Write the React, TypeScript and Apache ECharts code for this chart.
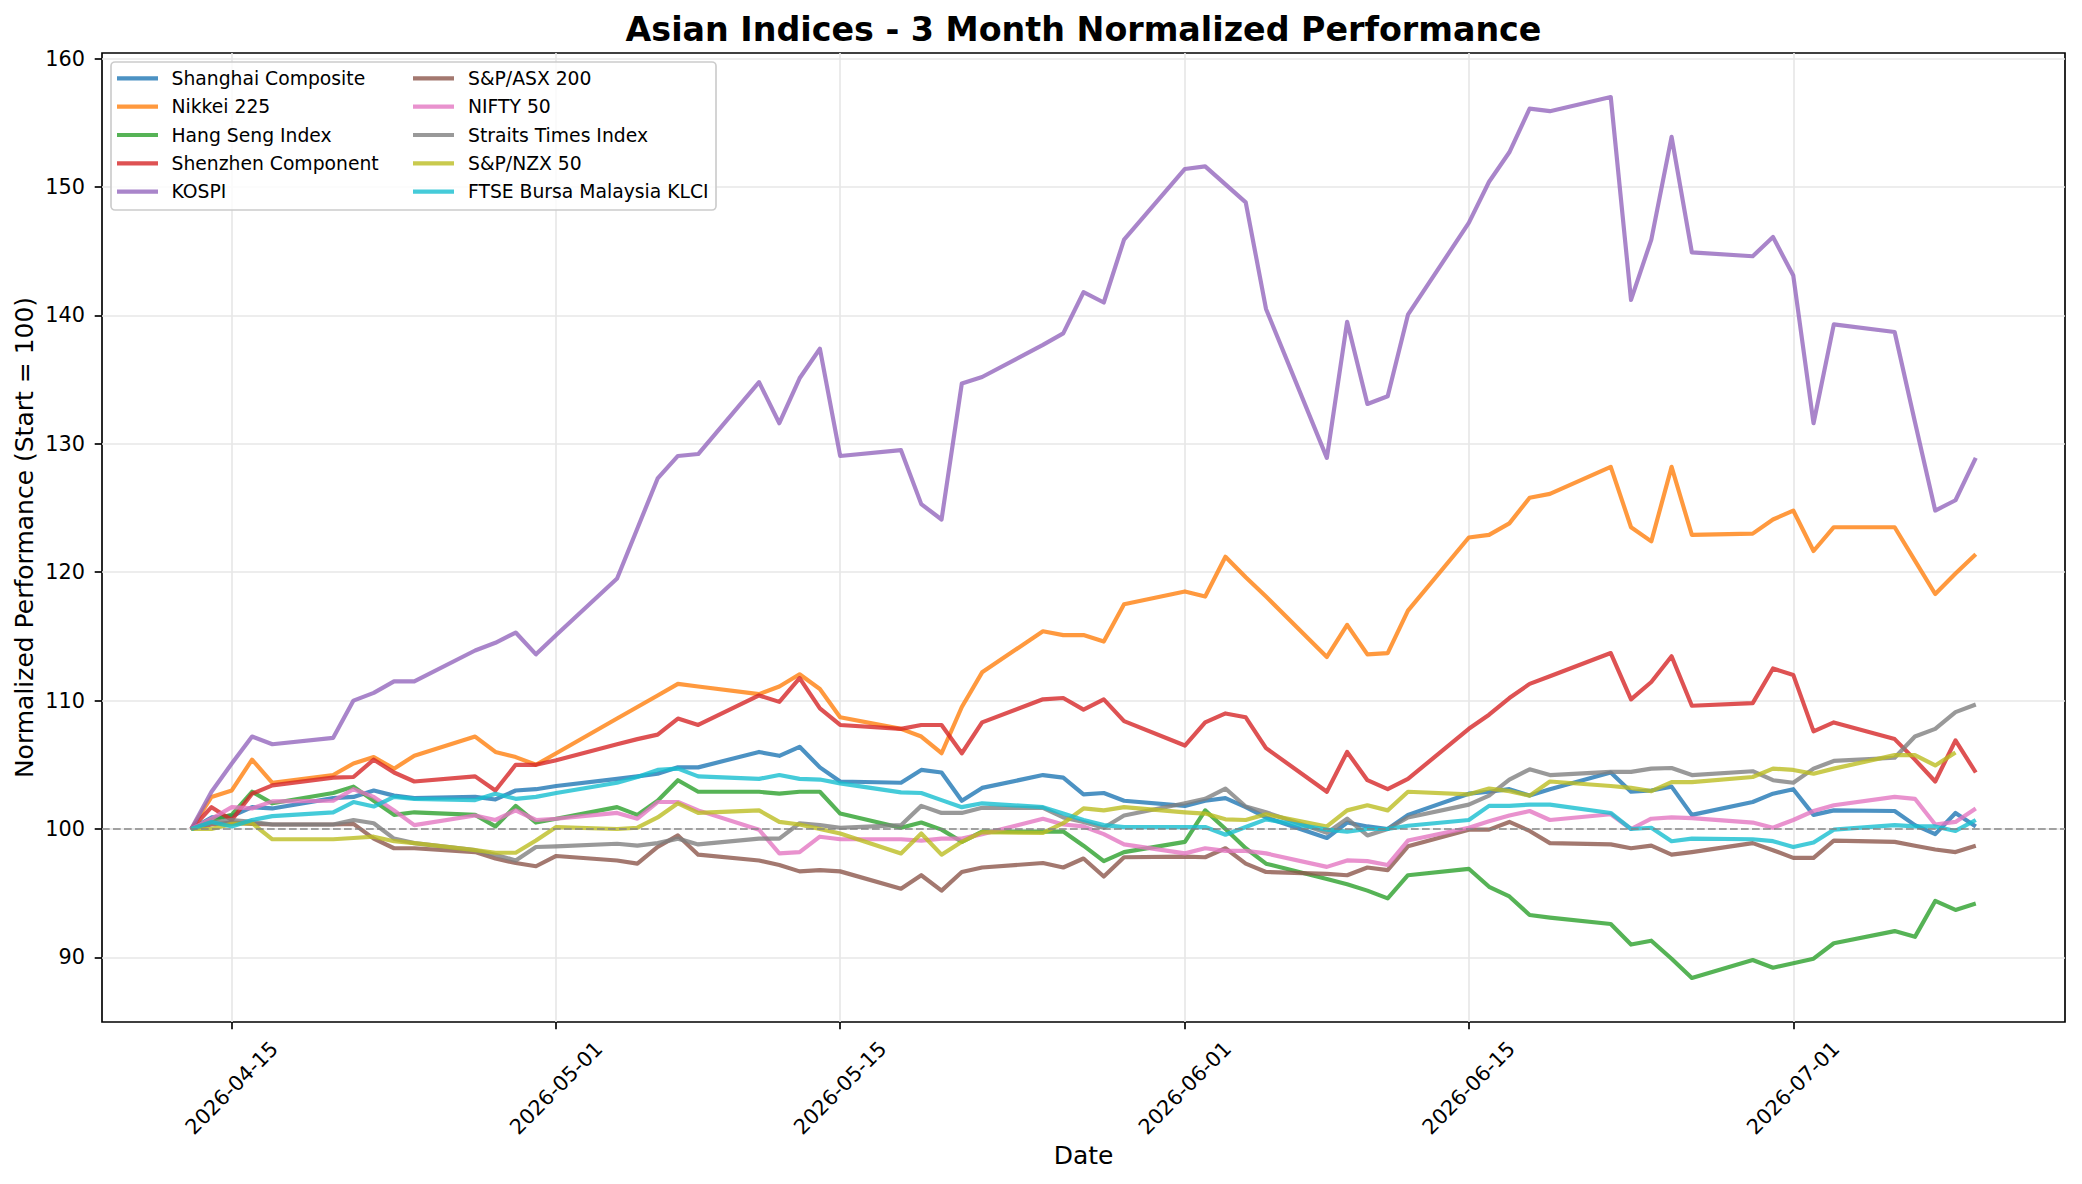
import React, { useEffect, useRef } from "react";
import * as echarts from "echarts";

// Trading days (weekdays) 2026-04-13 .. 2026-07-10
const dates = [
  "2026-04-13", "2026-04-14", "2026-04-15", "2026-04-16", "2026-04-17",
  "2026-04-20", "2026-04-21", "2026-04-22", "2026-04-23", "2026-04-24",
  "2026-04-27", "2026-04-28", "2026-04-29", "2026-04-30", "2026-05-01",
  "2026-05-04", "2026-05-05", "2026-05-06", "2026-05-07", "2026-05-08",
  "2026-05-11", "2026-05-12", "2026-05-13", "2026-05-14", "2026-05-15",
  "2026-05-18", "2026-05-19", "2026-05-20", "2026-05-21", "2026-05-22",
  "2026-05-25", "2026-05-26", "2026-05-27", "2026-05-28", "2026-05-29",
  "2026-06-01", "2026-06-02", "2026-06-03", "2026-06-04", "2026-06-05",
  "2026-06-08", "2026-06-09", "2026-06-10", "2026-06-11", "2026-06-12",
  "2026-06-15", "2026-06-16", "2026-06-17", "2026-06-18", "2026-06-19",
  "2026-06-22", "2026-06-23", "2026-06-24", "2026-06-25", "2026-06-26",
  "2026-06-29", "2026-06-30", "2026-07-01", "2026-07-02", "2026-07-03",
  "2026-07-06", "2026-07-07", "2026-07-08", "2026-07-09", "2026-07-10",
];

const shanghai = [
  100, 100.9, 101.0, 101.7, 101.6,
  102.4, 102.5, 103.0, 102.6, 102.4,
  102.5, 102.3, 103.0, 103.1, 103.35,
  103.9, 104.1, 104.3, 104.8, 104.8,
  106.0, 105.7, 106.4, 104.8, 103.7,
  103.6, 104.6, 104.4, 102.2, 103.2,
  104.2, 104.0, 102.7, 102.8, 102.2,
  101.8, 102.2, 102.4, 101.7, 100.9,
  99.3, 100.5, 100.2, 100.0, 101.1,
  102.75, 102.9, 103.1, 102.6, 103.1,
  104.4, 102.9, 103.0, 103.3, 101.1,
  102.1, 102.75, 103.1, 101.1, 101.45,
  101.4, 100.3, 99.6, 101.25, 100.2,
];
const nikkei = [
  100, 102.5, 103.0, 105.4, 103.6,
  104.2, 105.1, 105.6, 104.7, 105.7,
  107.2, 106.0, 105.6, 105.0, 105.9,
  108.6, 109.5, 110.4, 111.3, 111.1,
  110.5, 111.1, 112.05, 110.9, 108.7,
  107.8, 107.2, 105.9, 109.5, 112.2,
  115.4, 115.1, 115.1, 114.6, 117.5,
  118.5, 118.1, 121.2, 119.6, 118.1,
  113.4, 115.9, 113.6, 113.7, 117.0,
  122.7, 122.9, 123.8, 125.8, 126.1,
  128.2, 123.5, 122.4, 128.2, 122.9,
  123.0, 124.1, 124.8, 121.65, 123.5,
  123.5, 120.9, 118.3, 119.9, 121.4,
];
const hangSeng = [
  100, 100.7, 101.1, 102.9, 102.0,
  102.8, 103.3, 102.2, 101.1, 101.3,
  101.1, 100.2, 101.8, 100.5, 100.8,
  101.7, 101.1, 102.2, 103.8, 102.9,
  102.9, 102.75, 102.9, 102.9, 101.2,
  100.1, 100.5, 99.95, 99.0, 99.8,
  99.8, 99.8, 98.7, 97.5, 98.2,
  99.0, 101.45, 100.0, 98.5, 97.3,
  96.1, 95.7, 95.2, 94.6, 96.4,
  96.9, 95.5, 94.75, 93.3, 93.1,
  92.6, 91.0, 91.3, 89.9, 88.4,
  89.8, 89.2, 89.55, 89.9, 91.1,
  92.05, 91.6, 94.4, 93.7, 94.2,
];
const shenzhen = [
  100, 101.7, 100.7, 102.75, 103.4,
  104.0, 104.05, 105.4, 104.4, 103.7,
  104.1, 103.0, 105.0, 105.0, 105.35,
  106.6, 107.0, 107.35, 108.6, 108.1,
  110.4, 109.9, 111.75, 109.4, 108.1,
  107.8, 108.1, 108.1, 105.9, 108.3,
  110.1, 110.2, 109.3, 110.1, 108.4,
  106.5, 108.3, 109.0, 108.7, 106.3,
  102.9, 106.0, 103.8, 103.1, 103.9,
  107.8, 108.9, 110.2, 111.3, 111.9,
  113.7, 110.1, 111.45, 113.45, 109.6,
  109.8, 112.5, 112.0, 107.6, 108.3,
  107.0, 105.4, 103.7, 106.9, 104.4,
];
const kospi = [
  100, 102.9, 105.1, 107.2, 106.6,
  107.1, 110.0, 110.6, 111.5, 111.5,
  113.9, 114.5, 115.3, 113.6, 115.1,
  119.5, 123.4, 127.3, 129.05, 129.2,
  134.8, 131.6, 135.1, 137.4, 129.05,
  129.5, 125.3, 124.1, 134.7, 135.2,
  137.7, 138.6, 141.8, 141.0, 145.9,
  151.4, 151.6, 150.2, 148.8, 140.5,
  128.9, 139.5, 133.1, 133.7, 140.05,
  147.2, 150.4, 152.7, 156.1, 155.9,
  157.0, 141.2, 145.9, 153.9, 144.9,
  144.6, 146.1, 143.1, 131.6, 139.3,
  138.7, 131.7, 124.8, 125.6, 128.9,
];
const asx200 = [
  100, 100.35, 100.5, 100.4, 100.35,
  100.35, 100.4, 99.25, 98.5, 98.5,
  98.2, 97.7, 97.35, 97.1, 97.9,
  97.55, 97.3, 98.6, 99.5, 98.0,
  97.55, 97.2, 96.7, 96.8, 96.7,
  95.35, 96.4, 95.2, 96.65, 97.0,
  97.35, 97.0, 97.7, 96.3, 97.8,
  97.85, 97.8, 98.5, 97.3, 96.65,
  96.5, 96.4, 97.0, 96.8, 98.65,
  99.95, 99.95, 100.55, 99.85, 98.9,
  98.8, 98.5, 98.7, 98.0, 98.2,
  98.9, 98.35, 97.75, 97.75, 99.1,
  99.0, 98.7, 98.4, 98.2, 98.7,
];
const nifty50 = [
  100, 100.8, 101.7, 101.6, 102.15,
  102.2, 103.1, 102.5, 101.45, 100.3,
  101.05, 100.7, 101.45, 100.7, 100.8,
  101.25, 100.8, 102.1, 102.1, 101.45,
  99.95, 98.1, 98.2, 99.4, 99.2,
  99.2, 99.1, 99.25, 99.25, 99.6,
  100.8, 100.35, 100.2, 99.6, 98.8,
  98.1, 98.5, 98.3, 98.3, 98.1,
  97.05, 97.55, 97.5, 97.2, 99.1,
  100.1, 100.6, 101.05, 101.4, 100.7,
  101.15, 100.0, 100.8, 100.9, 100.85,
  100.5, 100.1, 100.7, 101.4, 101.85,
  102.5, 102.35, 100.35, 100.55, 101.6,
];
const straitsTimes = [
  100, 100.5, 100.7, 100.55, 100.35,
  100.35, 100.7, 100.45, 99.25, 98.9,
  98.35, 98.0, 97.55, 98.6, 98.65,
  98.85, 98.7, 98.9, 99.25, 98.8,
  99.25, 99.25, 100.45, 100.3, 100.1,
  100.3, 101.8, 101.25, 101.25, 101.65,
  101.65, 100.9, 100.55, 100.1, 101.05,
  102.0, 102.35, 103.15, 101.75, 101.3,
  99.7, 100.8, 99.5, 100.0, 100.9,
  101.9, 102.6, 103.85, 104.65, 104.2,
  104.45, 104.45, 104.7, 104.75, 104.2,
  104.5, 103.8, 103.6, 104.7, 105.3,
  105.55, 107.2, 107.8, 109.1, 109.7,
];
const nzx50 = [
  100, 100.0, 100.4, 100.45, 99.2,
  99.2, 99.3, 99.4, 99.05, 98.9,
  98.35, 98.15, 98.15, 99.1, 100.15,
  100.0, 100.1, 100.9, 102.0, 101.25,
  101.45, 100.55, 100.35, 100.0, 99.65,
  98.1, 99.65, 98.0, 99.0, 99.75,
  99.7, 100.45, 101.6, 101.45, 101.7,
  101.3, 101.2, 100.75, 100.7, 101.15,
  100.2, 101.45, 101.85, 101.45, 102.9,
  102.7, 103.15, 102.95, 102.6, 103.7,
  103.35, 103.2, 102.95, 103.65, 103.65,
  104.05, 104.7, 104.6, 104.3, 104.7,
  105.75, 105.75, 104.95, 105.95, null,
];
const klci = [
  100, 100.55, 100.2, 100.7, 101.0,
  101.3, 102.1, 101.75, 102.5, 102.35,
  102.25, 102.75, 102.35, 102.5, 102.8,
  103.6, 104.05, 104.6, 104.7, 104.1,
  103.9, 104.2, 103.9, 103.85, 103.55,
  102.85, 102.8, 102.25, 101.7, 102.0,
  101.7, 101.2, 100.7, 100.3, 100.15,
  100.15, 100.15, 99.55, 100.15, 100.75,
  99.95, 99.8, 100.0, 100.0, 100.25,
  100.7, 101.8, 101.8, 101.9, 101.9,
  101.25, 100.0, 100.1, 99.05, 99.25,
  99.2, 99.05, 98.6, 98.95, 99.95,
  100.3, 100.2, 100.2, 99.85, 100.7,
];

const seriesNames = [
  "Shanghai Composite", "Nikkei 225", "Hang Seng Index", "Shenzhen Component", "KOSPI",
  "S&P/ASX 200", "NIFTY 50", "Straits Times Index", "S&P/NZX 50", "FTSE Bursa Malaysia KLCI",
];
const seriesValues = [shanghai, nikkei, hangSeng, shenzhen, kospi, asx200, nifty50, straitsTimes, nzx50, klci];
const colors = ["#1f77b4", "#ff7f0e", "#2ca02c", "#d62728", "#9467bd", "#8c564b", "#e377c2", "#7f7f7f", "#bcbd22", "#17becf"];

const xTickLabels = ["2026-04-15", "2026-05-01", "2026-05-15", "2026-06-01", "2026-06-15", "2026-07-01"];
const yTickLabels = [90, 100, 110, 120, 130, 140, 150, 160];

const FONT = "DejaVu Sans";
const DAY = 86400000;

function parseLocal(s: string): number {
  const [y, m, d] = s.split("-").map(Number);
  return new Date(y, m - 1, d).getTime();
}
function fmt(v: number): string {
  const d = new Date(Math.round(v));
  const p = (n: number) => (n < 10 ? "0" + n : "" + n);
  return d.getFullYear() + "-" + p(d.getMonth() + 1) + "-" + p(d.getDate());
}

export default function App() {
  const ref = useRef<HTMLDivElement>(null);
  useEffect(() => {
    if (!ref.current) return;
    const chart = echarts.init(ref.current, null, { renderer: "svg" });

    const lw = 4.17;
    const series: any[] = seriesNames.map((name, i) => ({
      name,
      type: "line",
      data: dates.map((d, k) => [parseLocal(d), seriesValues[i][k]]),
      showSymbol: false,
      symbol: "none",
      connectNulls: false,
      lineStyle: { width: lw, color: colors[i], opacity: 0.8, join: "round", cap: "butt" },
      itemStyle: { color: colors[i] },
      emphasis: { disabled: true },
      silent: true,
      z: 3,
    }));
    series[0].markLine = {
      silent: true,
      symbol: ["none", "none"],
      label: { show: false },
      lineStyle: { color: "#808080", opacity: 0.7, type: [7.7, 3.3], width: 2.1 },
      data: [{ yAxis: 100 }],
    };

    const legendEls: any[] = [];
    legendEls.push({
      type: "rect",
      shape: { x: 111, y: 62, width: 605, height: 148, r: 4 },
      style: { fill: "rgba(255,255,255,0.8)", stroke: "#cccccc", lineWidth: 1.67 },
      z: 100,
    });
    const rowY = [78.3, 106.7, 135, 163.3, 191.7];
    seriesNames.forEach((name, i) => {
      const col = i < 5 ? 0 : 1;
      const row = i % 5;
      const hx = col === 0 ? 117 : 413;
      const tx = col === 0 ? 171.5 : 468;
      legendEls.push({
        type: "line",
        shape: { x1: hx, y1: rowY[row], x2: hx + 41, y2: rowY[row] },
        style: { stroke: colors[i], lineWidth: lw, opacity: 0.8 },
        z: 101,
      });
      legendEls.push({
        type: "text",
        x: tx,
        y: rowY[row],
        style: { text: name, fontSize: 18.75, fontFamily: FONT, fill: "#000", align: "left", verticalAlign: "middle" },
        z: 101,
      });
    });

    const xTicks = xTickLabels.map(parseLocal);

    const option: any = {
      animation: false,
      backgroundColor: "#ffffff",
      grid: {
        left: 102,
        right: 17,
        top: 53,
        bottom: 162,
        show: true,
        borderColor: "#000",
        borderWidth: 1.67,
        backgroundColor: "transparent",
      },
      xAxis: {
        type: "value",
        min: parseLocal("2026-04-13") - 4.4 * DAY,
        max: parseLocal("2026-07-10") + 4.4 * DAY,
        axisLine: { show: false },
        axisTick: {
          show: true,
          customValues: xTicks,
          length: 7.3,
          inside: false,
          lineStyle: { color: "#000", width: 1.67 },
        },
        axisLabel: {
          customValues: xTicks,
          formatter: (v: number) => fmt(v),
          rotate: 45,
          align: "center",
          verticalAlign: "middle",
          margin: 66,
          fontSize: 20.8,
          fontFamily: FONT,
          color: "#000",
          hideOverlap: false,
        },
        splitLine: { show: true, lineStyle: { color: "#e7e7e7", width: 1.67 } },
      },
      yAxis: {
        type: "value",
        min: 84.97,
        max: 160.43,
        axisLine: { show: false },
        axisTick: {
          show: true,
          customValues: yTickLabels,
          length: 7.3,
          inside: false,
          lineStyle: { color: "#000", width: 1.67 },
        },
        axisLabel: {
          customValues: yTickLabels,
          formatter: (v: number) => String(v),
          margin: 17,
          fontSize: 20.8,
          fontFamily: FONT,
          color: "#000",
        },
        splitLine: { show: true, lineStyle: { color: "#e7e7e7", width: 1.67 } },
      },
      legend: { show: false },
      tooltip: { show: false },
      series,
      graphic: [
        {
          type: "text",
          x: 1083.5,
          y: 29,
          style: {
            text: "Asian Indices - 3 Month Normalized Performance",
            fontSize: 33.3,
            fontWeight: "bold",
            fontFamily: FONT,
            fill: "#000",
            align: "center",
            verticalAlign: "middle",
          },
          z: 100,
        },
        {
          type: "text",
          x: 1083.5,
          y: 1155,
          style: {
            text: "Date",
            fontSize: 25,
            fontFamily: FONT,
            fill: "#000",
            align: "center",
            verticalAlign: "middle",
          },
          z: 100,
        },
        {
          type: "text",
          x: 24.5,
          y: 537.5,
          rotation: Math.PI / 2,
          style: {
            text: "Normalized Performance (Start = 100)",
            fontSize: 25,
            fontFamily: FONT,
            fill: "#000",
            align: "center",
            verticalAlign: "middle",
          },
          z: 100,
        },
        ...legendEls,
      ],
    };
    chart.setOption(option);
    return () => chart.dispose();
  }, []);
  return (
    <div
      ref={ref}
      style={{ position: "absolute", left: 0, top: 0, width: 2082, height: 1184, background: "#fff" }}
    />
  );
}
